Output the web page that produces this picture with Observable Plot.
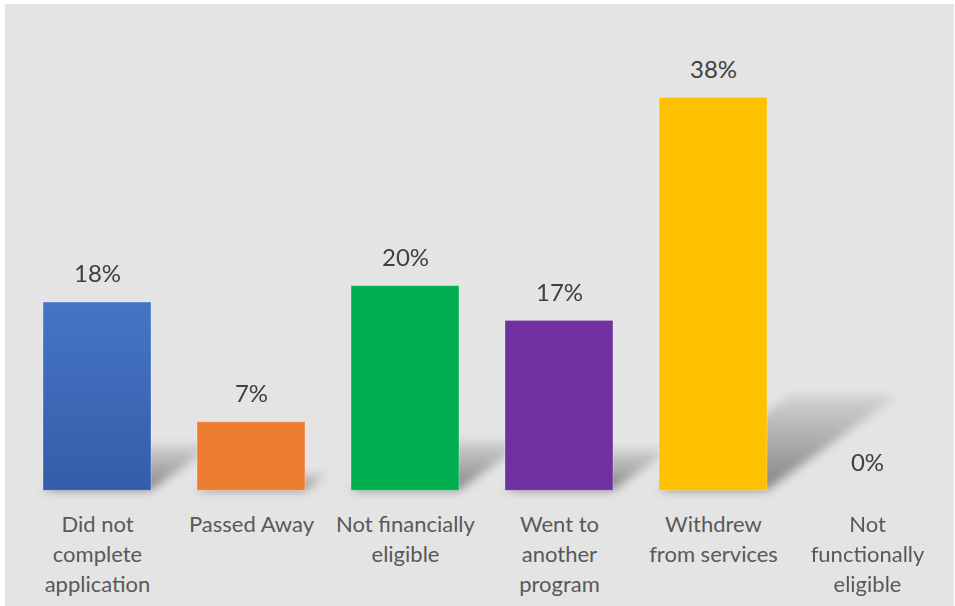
<!DOCTYPE html>
<html><head><meta charset="utf-8">
<script src="https://cdn.jsdelivr.net/npm/d3@7"></script>
<script src="https://cdn.jsdelivr.net/npm/@observablehq/plot@0.6"></script>
<style>
html,body{margin:0;padding:0;background:#fff;}
#chart{position:absolute;left:5px;top:4px;width:949px;height:602px;background:#e4e4e4;overflow:hidden}
</style></head><body><div id="chart"></div>
<script>
const categories = ["Did not\ncomplete\napplication", "Passed Away", "Not financially\neligible", "Went to\nanother\nprogram", "Withdrew\nfrom services", "Not\nfunctionally\neligible"];
const values = [18.4, 6.7, 20.0, 16.6, 38.4, 0];
const colors = ["url(#blueGrad)", "#ed7d31", "#00b050", "#7030a0", "#ffc000", "#a5a5a5"];
const valueLabels = ["18%", "7%", "20%", "17%", "38%", "0%"];
const data = categories.map((c, i) => ({category: c, value: values[i], color: colors[i], label: valueLabels[i]}));

const plot = Plot.plot({
  width: 949, height: 602,
  marginLeft: 12, marginRight: 8, marginTop: 93.3, marginBottom: 115.7,
  style: {fontFamily: "Lato, 'Open Sans', sans-serif", background: "transparent", overflow: "visible"},
  x: {domain: categories, paddingInner: 0.3, paddingOuter: 0.15, label: null},
  y: {axis: null},
  color: {type: "identity"},
  marks: [
    Plot.barY(data, {x: "category", y: "value", fill: "black"}),
    Plot.barY(data, {x: "category", y: "value", fill: "color", stroke: "#ffffff", strokeOpacity: 0.3, strokeWidth: 1}),
    Plot.text(data, {x: "category", y: "value", text: "label", lineAnchor: "bottom", dy: -20, fontSize: 24, fill: "#404040"}),
    Plot.axisX({tickSize: 0, tickPadding: 20.3, fontSize: 22, lineHeight: 1.36, fill: "#595959"})
  ]
});

const ns = "http://www.w3.org/2000/svg";
const defs = document.createElementNS(ns, "defs");
defs.innerHTML = `<linearGradient id="blueGrad" x1="0" y1="0" x2="0" y2="1"><stop offset="0" stop-color="#4674c6"/><stop offset="1" stop-color="#345da8"/></linearGradient>
<linearGradient id="shadowGrad" x1="0" y1="0" x2="0" y2="1"><stop offset="0" stop-color="#000" stop-opacity="0.08"/><stop offset="1" stop-color="#000" stop-opacity="0.42"/></linearGradient>`;
plot.insertBefore(defs, plot.firstChild);
const y0 = plot.scale("y").apply(0);
const k = 0.33, s = 0.24;
const groups = [...plot.querySelectorAll("g")].filter(g => g.querySelector(":scope > rect"));
const sg = groups[0];
if (sg) {
  sg.style.filter = "blur(5px)";
  sg.querySelectorAll("rect").forEach(r => {
    r.setAttribute("fill", "url(#shadowGrad)");
    r.setAttribute("transform", `translate(0,${y0}) matrix(1,0,${-k},${s},0,0) translate(0,${-y0})`);
  });
}
document.getElementById("chart").appendChild(plot);
</script></body></html>
